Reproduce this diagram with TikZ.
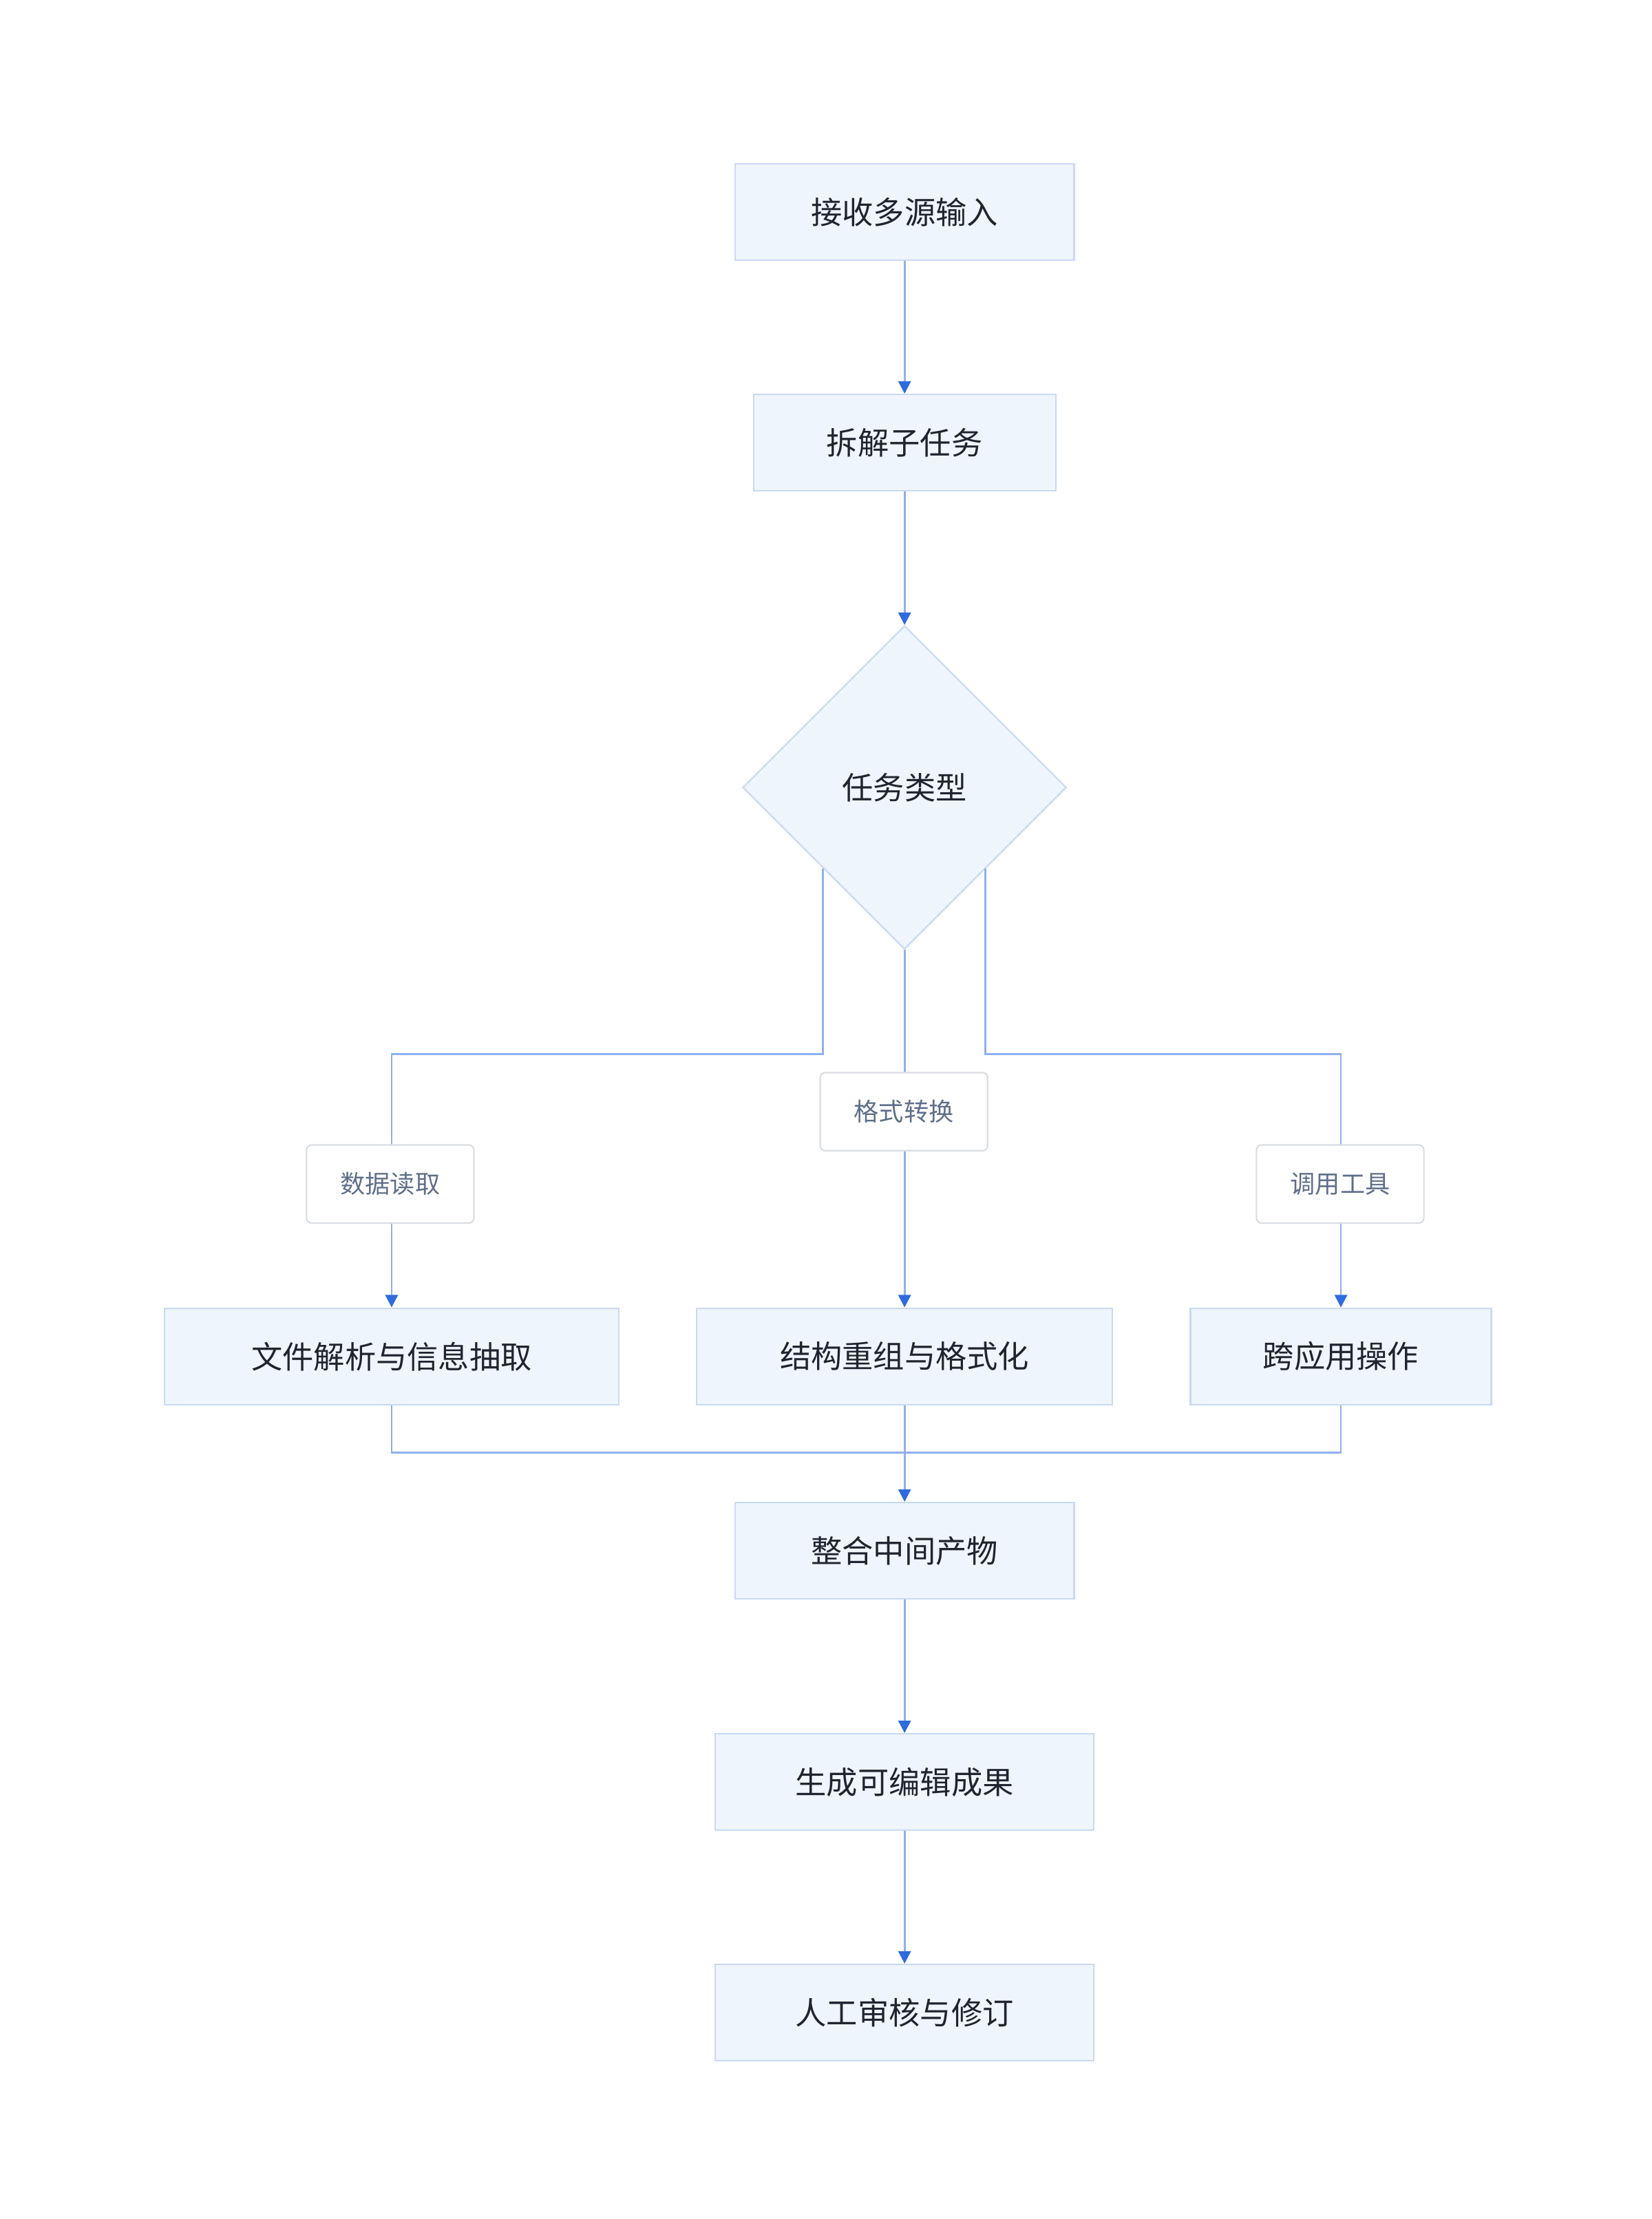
\documentclass[tikz,border=0pt]{standalone}
\usepackage{fontspec}
\newfontfamily\cjk{Noto Sans CJK SC}
\usetikzlibrary{arrows.meta, shapes.geometric}
\definecolor{boxfill}{HTML}{EFF5FD}
\definecolor{boxline}{HTML}{C8DAF4}
\definecolor{flowline}{HTML}{8EB0EE}
\definecolor{tipblue}{HTML}{2D6BDE}
\definecolor{tagline}{HTML}{DADDE2}
\definecolor{tagtext}{HTML}{5F6F8A}
\definecolor{stepText}{HTML}{1F2430}

\tikzset{
  stage/.style={draw=boxline, fill=boxfill, line width=0.6pt, inner sep=0pt,
    minimum height=68*0.02cm, font=\cjk\fontsize{12.5}{14}\selectfont, text=stepText},
  tag/.style={draw=tagline, fill=white, rounded corners=2pt, line width=0.6pt,
    minimum width=118*0.02cm, minimum height=55*0.02cm, inner sep=0pt,
    font=\cjk\fontsize{10}{12}\selectfont, text=tagtext},
  flow/.style={draw=flowline, line width=0.8pt, -{Triangle[length=5pt,width=5pt,color=tipblue]}},
  plain/.style={draw=flowline, line width=0.8pt}
}

\begin{document}
\begin{tikzpicture}[x=0.02cm, y=-0.02cm]
  \useasboundingbox (0,0) rectangle (1164,1564);

  % main stages
  \node [stage, minimum width=239*0.02cm] (input) at (637.5,149.5) {接收多源输入};
  \node [stage, minimum width=213*0.02cm] (split) at (637.5,312) {拆解子任务};
  \node [diamond, draw=boxline, fill=boxfill, line width=0.6pt,
    minimum width=228*0.02cm, minimum height=228*0.02cm, inner sep=0pt,
    font=\cjk\fontsize{12.5}{14}\selectfont, text=stepText] (kind) at (637.5,555) {任务类型};

  % branch targets
  \node [stage, minimum width=320*0.02cm] (parse) at (276,956) {文件解析与信息抽取};
  \node [stage, minimum width=293*0.02cm] (format) at (637.5,956) {结构重组与格式化};
  \node [stage, minimum width=212*0.02cm] (app) at (945,956) {跨应用操作};

  % merge and finish
  \node [stage, minimum width=239*0.02cm] (merge) at (637.5,1093) {整合中间产物};
  \node [stage, minimum width=267*0.02cm] (result) at (637.5,1256) {生成可编辑成果};
  \node [stage, minimum width=267*0.02cm] (review) at (637.5,1418.5) {人工审核与修订};

  % helper points
  \coordinate (kl) at (580,612);
  \coordinate (kr) at (694.5,612);
  \coordinate (join) at (637.5,1024);

  % connectors
  \draw [flow] (input) -- (split);
  \draw [flow] (split) -- (kind.north);
  \draw [flow] (kl) |- (276,743) -- (parse.north);
  \draw [flow] (kind.south) -- (format.north);
  \draw [flow] (kr) |- (945,743) -- (app.north);
  \draw [plain] (parse.south) |- (join);
  \draw [plain] (app.south) |- (join);
  \draw [flow] (format.south) -- (merge.north);
  \draw [flow] (merge) -- (result);
  \draw [flow] (result) -- (review);

  % branch labels
  \node [tag] (read) at (275,834.5) {数据读取};
  \node [tag] (conv) at (637,783.5) {格式转换};
  \node [tag] (tool) at (944.5,834.5) {调用工具};
\end{tikzpicture}
\end{document}
